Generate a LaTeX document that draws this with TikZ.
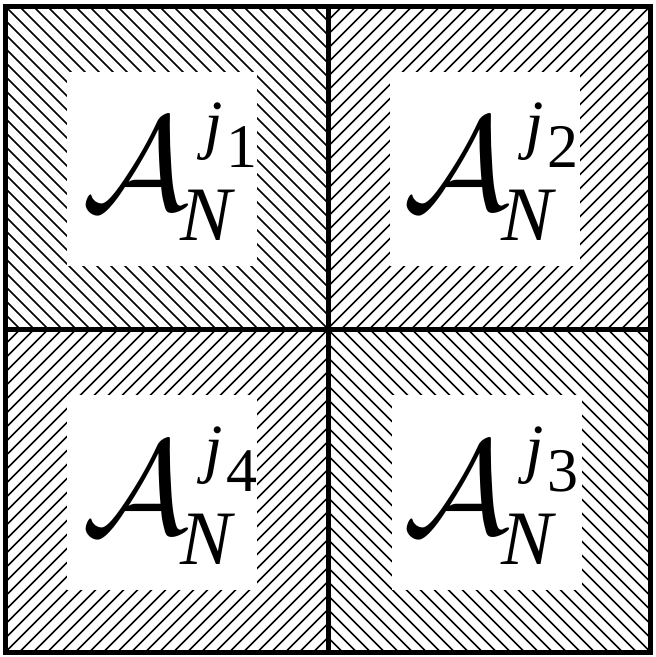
\documentclass[tikz,border=0pt]{standalone}
\usepackage{fontspec}
\setmainfont{Liberation Serif}
\begin{document}
\begin{tikzpicture}[x=1pt,y=-1pt,
  hatch/.style={line width=1.5pt},
  frame/.style={line width=5pt},
  cal/.style={inner sep=0pt,anchor=base west},
  nn/.style={inner sep=0pt,anchor=base west,font=\itshape\fontsize{77}{77}\selectfont},
  jj/.style={inner sep=0pt,anchor=base west,font=\itshape\fontsize{66}{66}\selectfont},
  dd/.style={inner sep=0pt,anchor=base west,font=\fontsize{62}{62}\selectfont}]
\useasboundingbox (0,0) rectangle (656,657);
\foreach \xa/\ya/\xb/\yb/\dir in {5/6/328/329.5/1, 328/6/650.5/329.5/-1, 5/329.5/328/652/-1, 328/329.5/650.5/652/1}{
  \begin{scope}
    \clip (\xa,\ya) rectangle (\xb,\yb);
    \foreach \k in {-24,...,24}{
      \ifnum\dir=1
        \draw[hatch] ({\xa+\k*14},\ya) -- ({\xa+\k*14+340},{\ya+340});
      \else
        \draw[hatch] ({\xb-\k*14},\ya) -- ({\xb-\k*14-340},{\ya+340});
      \fi
    }
  \end{scope}
}
\fill[white] (67,72) rectangle (257,266);
\fill[white] (390,72) rectangle (580,266);
\fill[white] (67,395) rectangle (257,590);
\fill[white] (392,395) rectangle (582,590);
\draw[frame] (5,6) rectangle (650.5,652);
\draw[frame] (328,6) -- (328,652);
\draw[frame] (5,329.5) -- (650.5,329.5);
\foreach \dx/\dy/\d/\nm in {0/0/1/a, 321/0/2/b, 0/324/4/c, 321/324/3/d}{
  \node[cal] (A\nm) at ({82+\dx},{209+\dy}) {\scalebox{13.3}{$\mathcal{A}$}};
  \node[nn] (N\nm) at ({180+\dx},{240+\dy}) {N};
  \node[jj] (j\nm) at ({204+\dx},{146+\dy}) {j};
  \node[dd] (s\nm) at ({226+\dx},{167+\dy}) {\d};
}
\end{tikzpicture}
\end{document}
